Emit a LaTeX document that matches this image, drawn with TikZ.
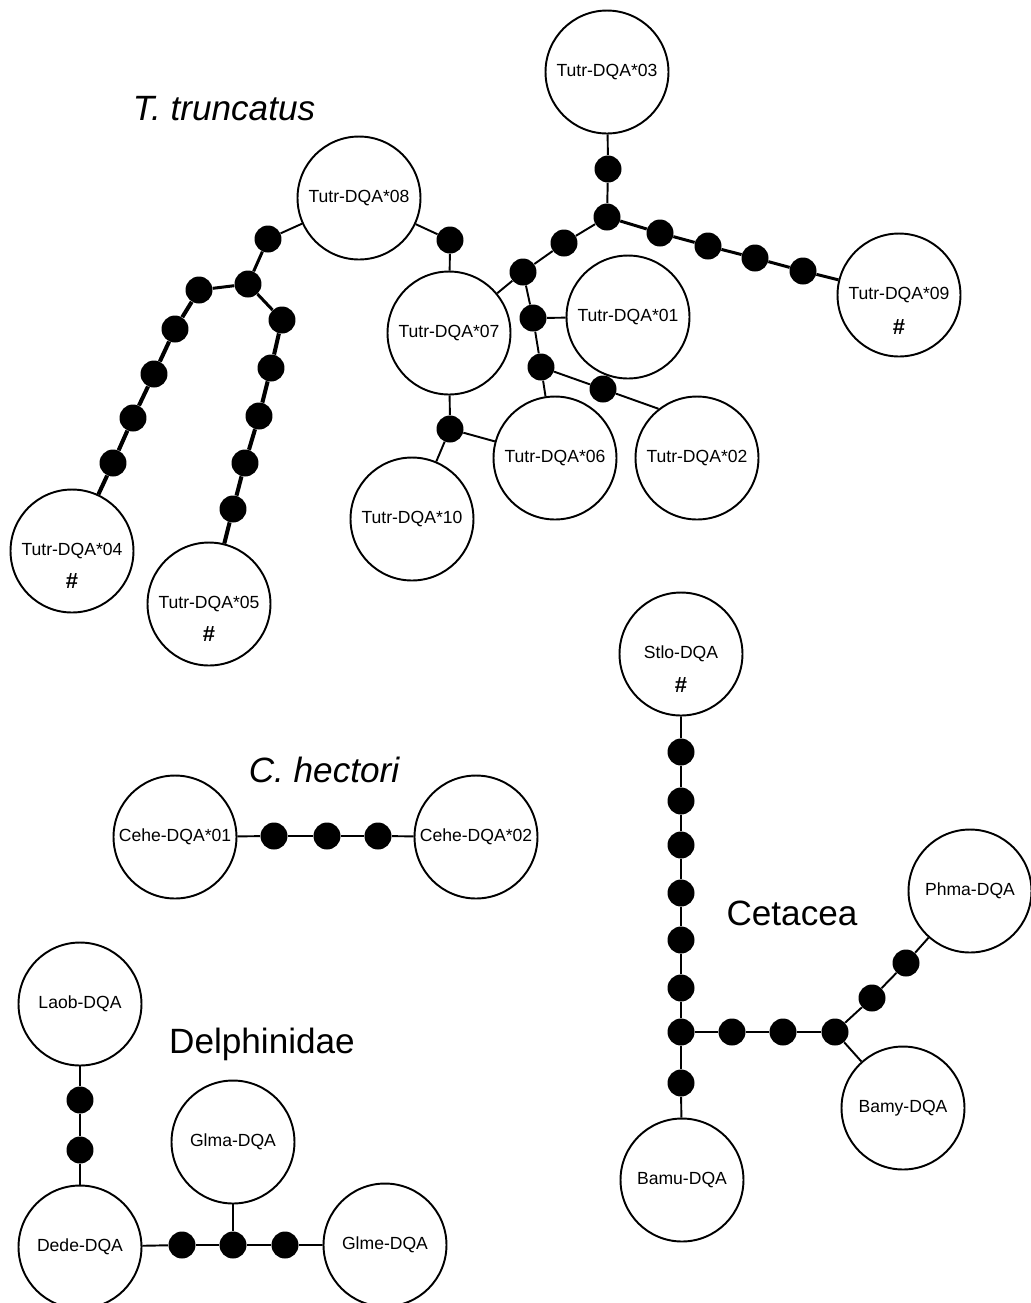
\documentclass[tikz,border=0pt]{standalone}
\usepackage{fontspec}
\setmainfont{Liberation Sans}
\usetikzlibrary{positioning}

\begin{document}
\begin{tikzpicture}[x=0.02cm, y=-0.02cm,
    hap/.style={circle, draw, line width=1.1pt, minimum size=2.46cm, inner sep=0pt, font=\fontsize{10}{12}\selectfont},
    mut/.style={circle, fill, minimum size=0.54cm, inner sep=0pt},
    plainlink/.style={line width=1.1pt},
    midlink/.style={line width=1.7pt},
    heavylink/.style={line width=2.3pt},
    hashmark/.style={font=\fontsize{12.5}{14}\selectfont\bfseries},
    grouplabel/.style={anchor=base, font=\fontsize{20}{24}\selectfont}]
    \useasboundingbox (0,0) rectangle (1031,1303);

    % T. truncatus
    \node [grouplabel] (ttru) at (224,120) {\itshape T. truncatus};

    \node [hap] (t03) at (607,72) {Tutr-DQA*03};
    \node [hap] (t08) at (359,198) {Tutr-DQA*08};
    \node [hap] (t07) at (449,333) {Tutr-DQA*07};
    \node [hap] (t01) at (628,317) {Tutr-DQA*01};
    \node [hap] (t09) at (899,295) {Tutr-DQA*09};
    \node [hap] (t06) at (555,458) {Tutr-DQA*06};
    \node [hap] (t02) at (697,458) {Tutr-DQA*02};
    \node [hap] (t10) at (412,519) {Tutr-DQA*10};
    \node [hap] (t04) at (72,551) {Tutr-DQA*04};
    \node [hap] (t05) at (209,604) {Tutr-DQA*05};

    \node [hashmark] (h09) at ([yshift=-18pt]t09.center) {\#};
    \node [hashmark] (h04) at ([yshift=-17pt]t04.center) {\#};
    \node [hashmark] (h05) at ([yshift=-17pt]t05.center) {\#};

    \node [mut] (a1) at (268,239) {};
    \node [mut] (a2) at (248,284) {};
    \node [mut] (a3) at (199,290) {};
    \node [mut] (a4) at (175,329) {};
    \node [mut] (a5) at (154,374) {};
    \node [mut] (a6) at (133,418) {};
    \node [mut] (a7) at (113,463) {};
    \node [mut] (b1) at (282,320) {};
    \node [mut] (b2) at (271,368) {};
    \node [mut] (b3) at (259,416) {};
    \node [mut] (b4) at (245,463) {};
    \node [mut] (b5) at (233,509) {};
    \node [mut] (c1) at (450,240) {};
    \node [mut] (d1) at (608,169) {};
    \node [mut] (d2) at (607,217) {};
    \node [mut] (e1) at (660,233) {};
    \node [mut] (e2) at (708,246) {};
    \node [mut] (e3) at (755,258) {};
    \node [mut] (e4) at (803,271) {};
    \node [mut] (f1) at (564,243) {};
    \node [mut] (f2) at (523,272) {};
    \node [mut] (g1) at (533,318) {};
    \node [mut] (g2) at (541,367) {};
    \node [mut] (g3) at (603,389) {};
    \node [mut] (k1) at (450,429) {};

    \draw [plainlink] (t08) -- (a1);
    \draw [midlink] (a1) -- (a2) -- (a3);
    \draw [midlink] (a2) -- (b1);
    \draw [heavylink] (a3) -- (a4) -- (a5) -- (a6) -- (a7) -- (t04);
    \draw [heavylink] (b1) -- (b2) -- (b3) -- (b4) -- (b5) -- (t05);
    \draw [plainlink] (t08) -- (c1) -- (t07);
    \draw [plainlink] (t03) -- (d1) -- (d2);
    \draw [midlink] (d2) -- (e1) -- (e2) -- (e3) -- (e4) -- (t09);
    \draw [plainlink] (d2) -- (f1) -- (f2) -- (t07);
    \draw [plainlink] (f2) -- (g1) -- (g2) -- (t06);
    \draw [plainlink] (g1) -- (t01);
    \draw [plainlink] (g2) -- (g3) -- (t02.128);
    \draw [plainlink] (t07) -- (k1) -- (t06);
    \draw [plainlink] (k1) -- (t10);

    % C. hectori
    \node [grouplabel] (cheh) at (324,782) {\itshape C. hectori};
    \node [hap] (c01) at (175,837) {Cehe-DQA*01};
    \node [hap] (c02) at (476,837) {Cehe-DQA*02};
    \node [mut] (m1) at (274,836) {};
    \node [mut] (m2) at (327,836) {};
    \node [mut] (m3) at (378,836) {};
    \draw [plainlink] (c01) -- (m1) -- (m2) -- (m3) -- (c02);

    % Delphinidae
    \node [grouplabel] (delph) at (262,1053) {Delphinidae};
    \node [hap] (laob) at (80,1004) {Laob-DQA};
    \node [hap] (dede) at (80,1247) {Dede-DQA};
    \node [hap] (glma) at (233,1142) {Glma-DQA};
    \node [hap] (glme) at (385,1245) {Glme-DQA};
    \node [mut] (p1) at (80,1100) {};
    \node [mut] (p2) at (80,1150) {};
    \node [mut] (q1) at (182,1245) {};
    \node [mut] (q2) at (233,1245) {};
    \node [mut] (q3) at (285,1245) {};
    \draw [midlink] (laob) -- (p1) -- (p2) -- (dede);
    \draw [plainlink] (dede) -- (q1) -- (q2) -- (q3) -- (glme);
    \draw [plainlink] (glma) -- (q2);

    % Cetacea
    \node [grouplabel] (cet) at (792,925) {Cetacea};
    \node [hap] (stlo) at (681,654) {Stlo-DQA};
    \node [hashmark] (hstlo) at ([yshift=-17.5pt]stlo.center) {\#};
    \node [hap] (phma) at (970,891) {Phma-DQA};
    \node [hap] (bamy) at (903,1108) {Bamy-DQA};
    \node [hap] (bamu) at (682,1180) {Bamu-DQA};
    \node [mut] (s1) at (681,752) {};
    \node [mut] (s2) at (681,801) {};
    \node [mut] (s3) at (681,845) {};
    \node [mut] (s4) at (681,893) {};
    \node [mut] (s5) at (681,940) {};
    \node [mut] (s6) at (681,988) {};
    \node [mut] (s7) at (681,1032) {};
    \node [mut] (s8) at (681,1083) {};
    \node [mut] (r1) at (732,1032) {};
    \node [mut] (r2) at (783,1032) {};
    \node [mut] (r3) at (835,1032) {};
    \node [mut] (u1) at (872,998) {};
    \node [mut] (u2) at (906,963) {};
    \draw [plainlink] (stlo) -- (s1) -- (s2) -- (s3) -- (s4) -- (s5) -- (s6) -- (s7) -- (s8) -- (bamu);
    \draw [plainlink] (s7) -- (r1) -- (r2) -- (r3) -- (u1) -- (u2) -- (phma);
    \draw [plainlink] (r3) -- (bamy);
\end{tikzpicture}
\end{document}
